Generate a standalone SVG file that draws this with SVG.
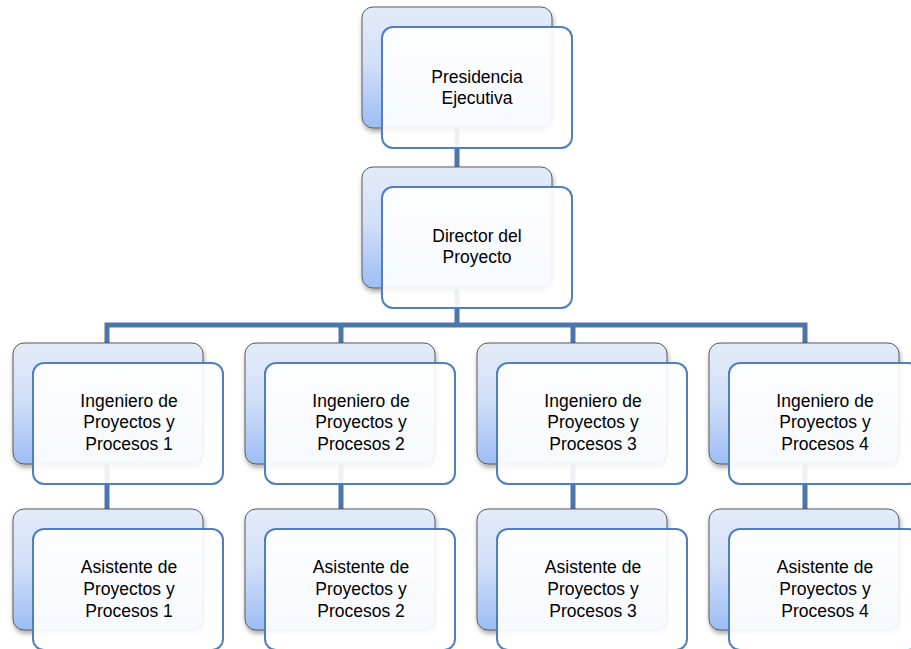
<svg xmlns="http://www.w3.org/2000/svg" width="911" height="649" viewBox="0 0 911 649">
<defs>
<linearGradient id="bg" x1="0" y1="0" x2="0" y2="1">
<stop offset="0" stop-color="#e3ebfa"/>
<stop offset="0.45" stop-color="#d2e0f8"/>
<stop offset="1" stop-color="#9dbdf4"/>
</linearGradient>
<filter id="sh" x="-10%" y="-10%" width="125%" height="130%">
<feDropShadow dx="1" dy="3" stdDeviation="2.5" flood-color="#000" flood-opacity="0.35"/>
</filter>
<g id="pair">
<rect class="back" x="0" y="0" width="190" height="121" rx="11"/>
<rect class="front" x="20" y="20" width="190" height="121" rx="11"/>
</g>
</defs>
<style>
.back{fill:url(#bg);stroke:#5a5a5a;stroke-width:1;filter:url(#sh)}
.front{fill:#ffffff;fill-opacity:0.9;stroke:#4f7fbd;stroke-width:2}
.conn{stroke:#4a76ac;stroke-width:5;fill:none}
text{font-family:"Liberation Sans",Arial,sans-serif;font-size:17.5px;fill:#000;text-anchor:middle}
</style>
<rect width="911" height="649" fill="#fff"/>
<g id="connectors">
<line class="conn" x1="457" y1="120" x2="457" y2="180"/>
<line class="conn" x1="457" y1="290" x2="457" y2="325"/>
<polyline class="conn" points="107,345 107,325 805,325 805,345"/>
<line class="conn" x1="341" y1="325" x2="341" y2="345"/>
<line class="conn" x1="573" y1="325" x2="573" y2="345"/>
<line class="conn" x1="107" y1="455" x2="107" y2="515"/>
<line class="conn" x1="341" y1="455" x2="341" y2="515"/>
<line class="conn" x1="573" y1="455" x2="573" y2="515"/>
<line class="conn" x1="805" y1="455" x2="805" y2="515"/>
</g>
<g id="presidencia">
<use href="#pair" x="362" y="7"/>
<text x="477" y="83">Presidencia</text>
<text x="477" y="104">Ejecutiva</text>
</g>
<g id="director">
<use href="#pair" x="362" y="167"/>
<text x="477" y="242">Director del</text>
<text x="477" y="263">Proyecto</text>
</g>
<g id="ing1">
<use href="#pair" x="13" y="343"/>
<text x="129" y="407">Ingeniero de</text>
<text x="129" y="428">Proyectos y</text>
<text x="129" y="450">Procesos 1</text>
</g>
<g id="ing2">
<use href="#pair" x="245" y="343"/>
<text x="361" y="407">Ingeniero de</text>
<text x="361" y="428">Proyectos y</text>
<text x="361" y="450">Procesos 2</text>
</g>
<g id="ing3">
<use href="#pair" x="477" y="343"/>
<text x="593" y="407">Ingeniero de</text>
<text x="593" y="428">Proyectos y</text>
<text x="593" y="450">Procesos 3</text>
</g>
<g id="ing4">
<use href="#pair" x="709" y="343"/>
<text x="825" y="407">Ingeniero de</text>
<text x="825" y="428">Proyectos y</text>
<text x="825" y="450">Procesos 4</text>
</g>
<g id="asis1">
<use href="#pair" x="13" y="509"/>
<text x="129" y="573">Asistente de</text>
<text x="129" y="595">Proyectos y</text>
<text x="129" y="617">Procesos 1</text>
</g>
<g id="asis2">
<use href="#pair" x="245" y="509"/>
<text x="361" y="573">Asistente de</text>
<text x="361" y="595">Proyectos y</text>
<text x="361" y="617">Procesos 2</text>
</g>
<g id="asis3">
<use href="#pair" x="477" y="509"/>
<text x="593" y="573">Asistente de</text>
<text x="593" y="595">Proyectos y</text>
<text x="593" y="617">Procesos 3</text>
</g>
<g id="asis4">
<use href="#pair" x="709" y="509"/>
<text x="825" y="573">Asistente de</text>
<text x="825" y="595">Proyectos y</text>
<text x="825" y="617">Procesos 4</text>
</g>
</svg>
